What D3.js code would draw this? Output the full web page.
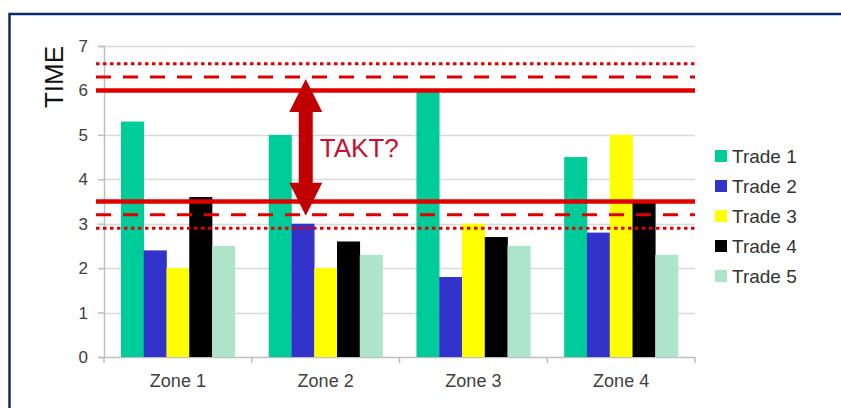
<!DOCTYPE html>
<html>
<head>
<meta charset="utf-8">
<script src="https://cdn.jsdelivr.net/npm/d3@7"></script>
<style>
    body { margin: 0; background: #fff; }
    #chart svg { display: block; font-family: "Liberation Sans", Arial, sans-serif; }
</style>
</head>
<body>
<div id="chart"></div>
<script>
const zones = ['Zone 1', 'Zone 2', 'Zone 3', 'Zone 4'];
const trades = ['Trade 1', 'Trade 2', 'Trade 3', 'Trade 4', 'Trade 5'];
// values per trade, one entry per zone
const trade1 = [5.3, 5.0, 6.0, 4.5];
const trade2 = [2.4, 3.0, 1.8, 2.8];
const trade3 = [2.0, 2.0, 3.0, 5.0];
const trade4 = [3.6, 2.6, 2.7, 3.5];
const trade5 = [2.5, 2.3, 2.5, 2.3];
const yTicks = [0, 1, 2, 3, 4, 5, 6, 7];
// takt reference lines
const solidLines = [6.0, 3.5];
const dashedLines = [6.3, 3.2];
const dottedLines = [6.6, 2.9];
const arrowRange = [6.3, 3.2];
const annotation = 'TAKT?';

class TaktChart {
    constructor(containerId) {
        this.containerId = containerId;
        this.width = 841;
        this.height = 408;
        this.plot = { left: 104, right: 695, top: 46, bottom: 357 };
        this.colors = ['#00cc99', '#3333cc', '#ffff00', '#000000', '#ade5cb'];
        this.red = '#e00000';
    }

    init() {
        this.series = [trade1, trade2, trade3, trade4, trade5];
        this.setupSVG();
        this.drawGrid();
        this.drawBars();
        this.drawLines();
        this.drawArrow();
        this.drawLegend();
    }

    setupSVG() {
        this.svg = d3.select(`#${this.containerId}`)
            .append('svg')
            .attr('width', this.width)
            .attr('height', this.height);

        // frame round the chart (runs off the right and bottom edges)
        this.svg.append('rect')
            .attr('x', 9.5).attr('y', 14)
            .attr('width', 900).attr('height', 500)
            .attr('fill', 'none')
            .attr('stroke', '#0b2a6b')
            .attr('stroke-width', 2.5);

        this.xScale = d3.scaleBand()
            .domain(zones)
            .range([this.plot.left, this.plot.right])
            .padding(0);

        this.xInner = d3.scaleBand()
            .domain(trades)
            .range([0, this.xScale.bandwidth()])
            .paddingInner(0)
            .paddingOuter(0.745);

        this.yScale = d3.scaleLinear()
            .domain([0, 7])
            .range([this.plot.bottom, this.plot.top]);
    }

    drawGrid() {
        const p = this.plot;
        this.svg.append('g')
            .selectAll('line')
            .data(yTicks.filter(d => d > 0))
            .enter()
            .append('line')
            .attr('x1', p.left).attr('x2', p.right)
            .attr('y1', d => Math.round(this.yScale(d)) + 0.5)
            .attr('y2', d => Math.round(this.yScale(d)) + 0.5)
            .attr('stroke', '#d9d9d9')
            .attr('stroke-width', 1.5);

        const yAxis = this.svg.append('g')
            .attr('transform', `translate(${p.left},0)`)
            .call(d3.axisLeft(this.yScale).tickValues(yTicks).tickFormat(d3.format('d'))
                .tickSize(6).tickPadding(10));
        yAxis.select('.domain').attr('stroke', '#bfbfbf').attr('stroke-width', 1.5);
        yAxis.selectAll('.tick line').attr('stroke', '#bfbfbf').attr('stroke-width', 1.5);
        yAxis.selectAll('.tick text')
            .attr('font-size', '17px')
            .attr('fill', '#404040')
            .attr('font-family', '"Liberation Sans", Arial, sans-serif');

        const xAxis = this.svg.append('g')
            .attr('transform', `translate(0,${p.bottom})`)
            .call(d3.axisBottom(this.xScale).tickSize(0).tickPadding(17));
        xAxis.select('.domain').attr('stroke', '#bfbfbf').attr('stroke-width', 1.5);
        xAxis.selectAll('.tick text')
            .attr('font-size', '18px')
            .attr('fill', '#404040')
            .attr('font-family', '"Liberation Sans", Arial, sans-serif');

        // category separators below the axis
        const edges = zones.map(z => this.xScale(z)).concat([p.right]);
        xAxis.selectAll('.sep')
            .data(edges)
            .enter()
            .append('line')
            .attr('class', 'sep')
            .attr('x1', d => d).attr('x2', d => d)
            .attr('y1', 0).attr('y2', 6)
            .attr('stroke', '#bfbfbf')
            .attr('stroke-width', 1.5);

        this.svg.append('text')
            .attr('transform', `translate(63,77) rotate(-90)`)
            .attr('text-anchor', 'middle')
            .attr('font-size', '26px')
            .attr('fill', '#111')
            .text('TIME');
    }

    drawBars() {
        const groups = this.svg.selectAll('.trade-group')
            .data(this.series)
            .enter()
            .append('g')
            .attr('class', 'trade-group')
            .attr('fill', (d, i) => this.colors[i]);

        groups.selectAll('rect')
            .data((d, i) => d.map((v, j) => ({ zone: zones[j], trade: trades[i], value: v })))
            .enter()
            .append('rect')
            .attr('x', d => this.xScale(d.zone) + this.xInner(d.trade))
            .attr('y', d => this.yScale(d.value))
            .attr('width', this.xInner.bandwidth() + 0.3)
            .attr('height', d => this.yScale(0) - this.yScale(d.value));
    }

    drawLines() {
        const x1 = this.plot.left - 8;
        const x2 = this.plot.right;
        const sets = [
            { values: solidLines, width: 4.5, dash: null },
            { values: dashedLines, width: 3, dash: '15,12' },
            { values: dottedLines, width: 3, dash: '3.5,3.5' }
        ];
        sets.forEach(s => {
            this.svg.append('g')
                .selectAll('line')
                .data(s.values)
                .enter()
                .append('line')
                .attr('x1', x1).attr('x2', x2)
                .attr('y1', d => this.yScale(d))
                .attr('y2', d => this.yScale(d))
                .attr('stroke', this.red)
                .attr('stroke-width', s.width)
                .attr('stroke-dasharray', s.dash);
        });
    }

    drawArrow() {
        const cx = this.xScale('Zone 2') + 54;
        const top = this.yScale(arrowRange[0]) + 2;
        const bottom = this.yScale(arrowRange[1]) + 1;
        const hw = 16.5, sw = 7, hl = 33;
        const pts = [
            [cx, top], [cx + hw, top + hl], [cx + sw, top + hl],
            [cx + sw, bottom - hl], [cx + hw, bottom - hl], [cx, bottom],
            [cx - hw, bottom - hl], [cx - sw, bottom - hl], [cx - sw, top + hl],
            [cx - hw, top + hl]
        ];
        this.svg.append('path')
            .attr('d', d3.line()(pts) + 'Z')
            .attr('fill', '#c00000');

        this.svg.append('text')
            .attr('x', cx + 14)
            .attr('y', this.yScale(4.5))
            .attr('font-size', '26px')
            .attr('fill', '#c8102e')
            .text(annotation);
    }

    drawLegend() {
        const legend = this.svg.append('g')
            .attr('transform', 'translate(715,156)');

        const items = legend.selectAll('.legend-item')
            .data(trades)
            .enter()
            .append('g')
            .attr('class', 'legend-item')
            .attr('transform', (d, i) => `translate(0,${i * 30})`);

        items.append('rect')
            .attr('y', -6)
            .attr('width', 12)
            .attr('height', 12)
            .attr('fill', (d, i) => this.colors[i]);

        items.append('text')
            .attr('x', 17)
            .attr('y', 7)
            .attr('font-size', '19px')
            .attr('fill', '#333')
            .text(d => d);
    }
}

const chart = new TaktChart('chart');
chart.init();
</script>
</body>
</html>
